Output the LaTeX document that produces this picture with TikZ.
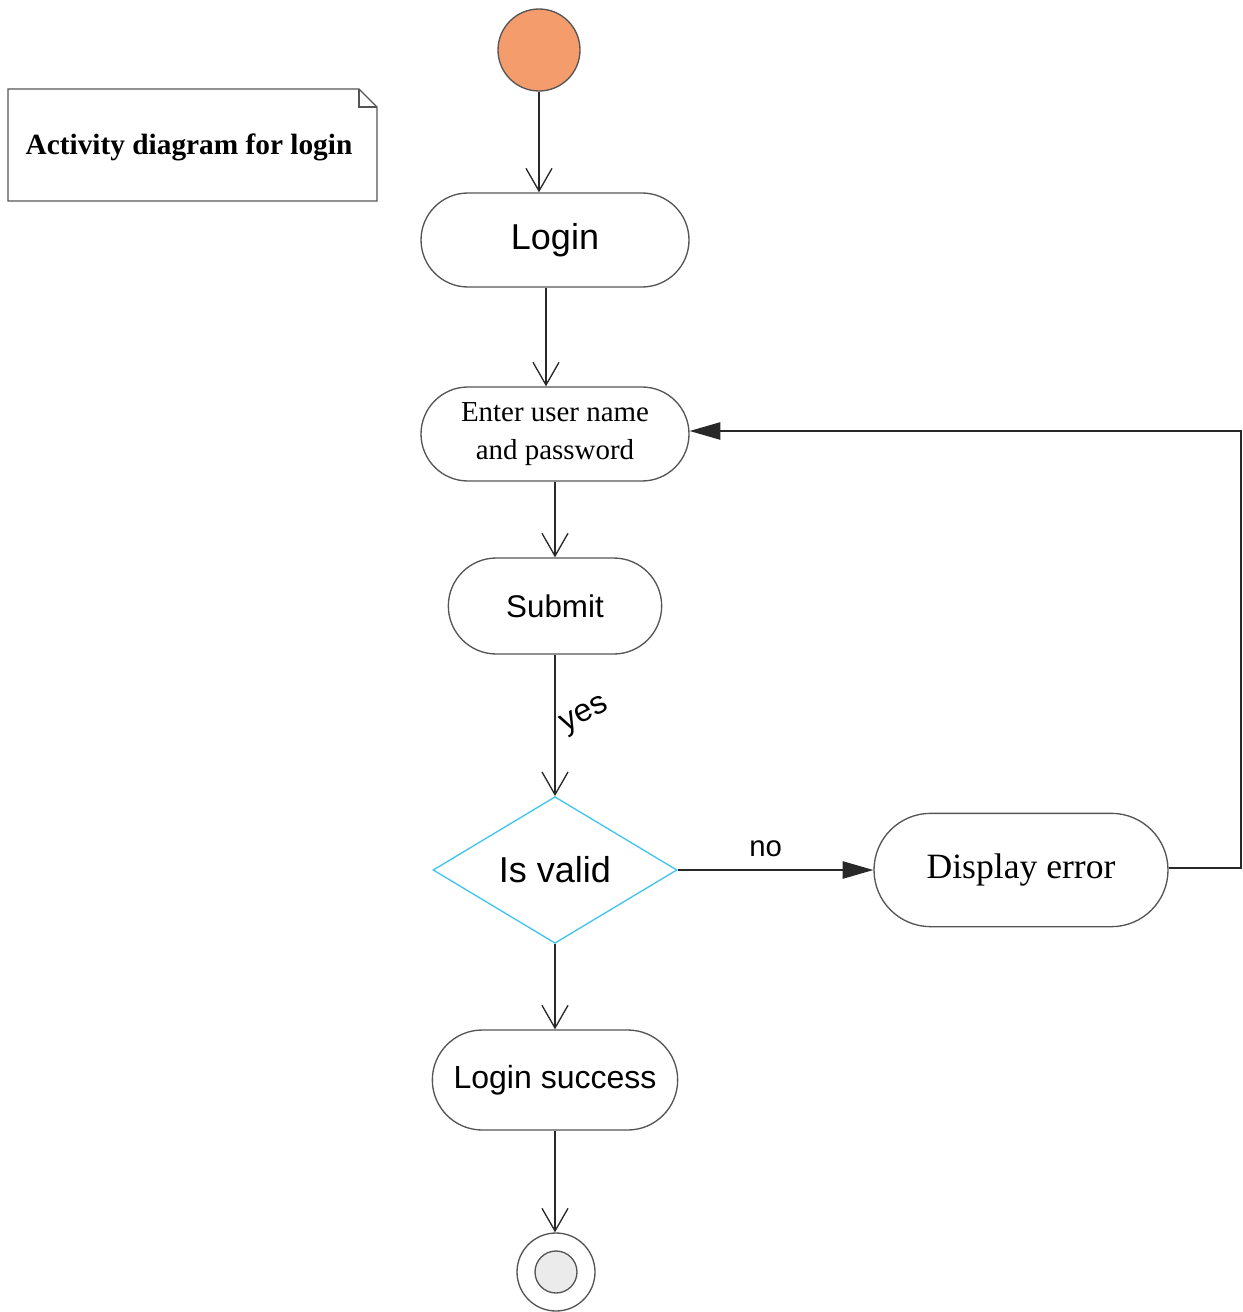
\documentclass[tikz,border=0pt]{standalone}
\usepackage{fontspec}
\setmainfont{Liberation Serif}
\setsansfont{Liberation Sans}
\usetikzlibrary{shapes.geometric,shapes.misc,arrows.meta}
\definecolor{startfill}{RGB}{245,156,109}
\definecolor{endfill}{RGB}{235,235,235}
\definecolor{decision}{RGB}{64,196,240}
\definecolor{edge}{RGB}{40,40,40}
\definecolor{border}{RGB}{85,85,85}
\begin{document}
\begin{tikzpicture}[x=0.75pt,y=-0.75pt,
  act/.style={rounded rectangle, draw=border, line width=1pt, inner sep=0pt, align=center},
  flow/.style={draw=edge, line width=1.1pt, -{Straight Barb[length=17pt,width=19.5pt,line width=1pt]}},
  solidflow/.style={draw=edge, line width=1.1pt, -{Triangle[length=23pt,width=13pt]}},
  bigsans/.style={font=\sffamily\fontsize{27}{32}\selectfont},
  midsans/.style={font=\sffamily\fontsize{23.5}{28}\selectfont},
  lblsans/.style={font=\sffamily\fontsize{22}{26}\selectfont},
]
\useasboundingbox (0,0) rectangle (1242,1312);

% note
\node[minimum width=276.75pt, minimum height=84pt, inner sep=0pt,
      font=\bfseries\fontsize{22}{26}\selectfont] (note) at (189,147) {Activity diagram for login};
\draw[draw=border, line width=1pt]
  (8,89) coordinate (n1) -- (359,89) coordinate (n2) -- (377,107) coordinate (n3)
  -- (377,201) -- (8,201) -- cycle;
\draw[draw=border, line width=1pt] (n2) |- (n3);

% nodes
\node[circle, draw=border, fill=startfill, line width=1pt, minimum size=61.5pt, inner sep=0pt] (start) at (539,50) {};
\node[act, minimum width=201pt, minimum height=70.5pt, bigsans] (login) at (555,240) {Login};
\node[act, minimum width=201pt, minimum height=70.5pt, font=\fontsize{21.7}{28.5}\selectfont] (enter) at (555,434) {Enter user name\\and password};
\node[act, minimum width=160pt, minimum height=72pt, midsans] (submit) at (555,606) {Submit};
\node[diamond, draw=decision, line width=1pt, minimum width=183pt, minimum height=110pt, inner sep=0pt, aspect=1.66, bigsans] (valid) at (555,870) {Is valid};
\node[act, minimum width=220.5pt, minimum height=85pt, font=\fontsize{26.7}{32}\selectfont] (display) at (1021,870) {Display error};
\node[act, minimum width=184pt, minimum height=75pt, font=\sffamily\fontsize{24}{29}\selectfont] (success) at (555,1080) {Login success};
\node[circle, draw=border, line width=1pt, minimum size=58.5pt, inner sep=0pt] (end) at (556,1272) {};
\node[circle, draw=border, fill=endfill, line width=1pt, minimum size=31.5pt, inner sep=0pt] (endin) at (556,1272) {};

\coordinate (corner1) at (1241,868);
\coordinate (corner2) at (1241,431);

% connectors
\draw[flow] (start) -- (start |- login.north);
\draw[flow] ([xshift=-6.75pt]login.south) -- ([xshift=-6.75pt]enter.north);
\draw[flow] (enter.south) -- (submit.north);
\draw[flow] (submit.south) -- (valid.north);
\node[rotate=27, font=\sffamily\fontsize{24}{28}\selectfont, inner sep=0pt] (yes) at (585,716) {yes};
\draw[solidflow] (valid.east) -- node[above, lblsans, pos=0.45, inner sep=9pt] (no) {no} (display.west);
\draw[solidflow] (display.east |- corner1) -- (corner1) -- (corner2) -- (enter.east |- corner2);
\draw[flow] (valid.south) -- (success.north);
\draw[flow] (success.south) -- (success.south |- end.north);
\end{tikzpicture}
\end{document}
